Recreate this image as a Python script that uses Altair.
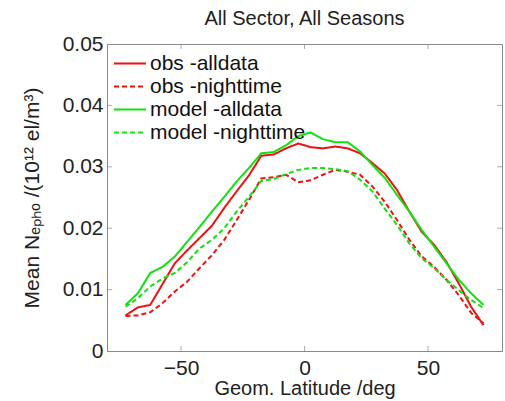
import altair as alt
import pandas as pd

lat = [-72.5, -67.5, -62.5, -57.5, -52.5, -47.5, -42.5, -37.5, -32.5, -27.5,
       -22.5, -17.5, -12.5, -7.5, -2.5, 2.5, 7.5, 12.5, 17.5, 22.5,
       27.5, 32.5, 37.5, 42.5, 47.5, 52.5, 57.5, 62.5, 67.5, 72.5]

obs_all = [0.0058, 0.0071, 0.0075, 0.0109, 0.0143, 0.0164, 0.0184, 0.0204, 0.0233, 0.0260,
           0.0286, 0.0318, 0.0320, 0.0330, 0.0338, 0.0332, 0.0330, 0.0333, 0.0330, 0.0322,
           0.0306, 0.0289, 0.0262, 0.0227, 0.0194, 0.0173, 0.0145, 0.0110, 0.0072, 0.0042]
obs_night = [0.0057, 0.0058, 0.0063, 0.0078, 0.0097, 0.0113, 0.0135, 0.0156, 0.0181, 0.0213,
             0.0246, 0.0281, 0.0283, 0.0287, 0.0275, 0.0278, 0.0287, 0.0295, 0.0292, 0.0287,
             0.0268, 0.0243, 0.0213, 0.0181, 0.0154, 0.0137, 0.0116, 0.0091, 0.0062, 0.0045]
model_all = [0.0075, 0.0094, 0.0127, 0.0137, 0.0154, 0.0178, 0.0202, 0.0227, 0.0251, 0.0276,
             0.0298, 0.0322, 0.0324, 0.0335, 0.0350, 0.0356, 0.0345, 0.0340, 0.0340, 0.0325,
             0.0303, 0.0282, 0.0254, 0.0227, 0.0197, 0.0170, 0.0143, 0.0116, 0.0094, 0.0075]
model_night = [0.0072, 0.0086, 0.0105, 0.0118, 0.0127, 0.0145, 0.0167, 0.0181, 0.0200, 0.0227,
               0.0251, 0.0277, 0.0280, 0.0288, 0.0295, 0.0298, 0.0298, 0.0296, 0.0293, 0.0279,
               0.0260, 0.0232, 0.0205, 0.0175, 0.0151, 0.0135, 0.0116, 0.0099, 0.0083, 0.0070]

series_names = ["obs -alldata", "obs -nighttime", "model -alldata", "model -nighttime"]
series_colors = ["#ee1111", "#ee1111", "#11e011", "#11e011"]
series_dashes = [[1, 0], [5, 3], [1, 0], [5, 3]]

x_ticks = [-50, 0, 50]
y_ticks = [0, 0.01, 0.02, 0.03, 0.04, 0.05]

rows = []
for name, vals in zip(series_names, [obs_all, obs_night, model_all, model_night]):
    for la, v in zip(lat, vals):
        rows.append({"lat": la, "value": v, "series": name})
df = pd.DataFrame(rows)

W, H = 395, 307
FONT = "Liberation Sans"
GRAY = "#8a8a8a"
FS = 21

xscale = alt.Scale(domain=[-80, 80], nice=False)
yscale = alt.Scale(domain=[0, 0.05], nice=False)

legend = alt.Legend(
    title=None, orient="none", legendX=6, legendY=8,
    symbolType="stroke", symbolSize=1024, symbolStrokeWidth=2,
    labelFontSize=FS, labelFont=FONT, labelColor="#111111", labelLimit=400,
    labelOffset=3, clipHeight=23, rowPadding=0, padding=0,
)

lines = alt.Chart(df).mark_line(strokeWidth=2).encode(
    x=alt.X("lat:Q", scale=xscale,
            axis=alt.Axis(values=x_ticks, title="Geom. Latitude /deg", grid=False,
                          tickSize=0, labelPadding=6, titlePadding=0, titleFontSize=20)),
    y=alt.Y("value:Q", scale=yscale,
            axis=alt.Axis(values=y_ticks, title="Mean Nₑₚₕₒ /(10¹² el/m³)", grid=False,
                          tickSize=0, labelPadding=4, titlePadding=20,
                          labelExpr="datum.value == 0 ? '0' : format(datum.value, '.2f')")),
    color=alt.Color("series:N", scale=alt.Scale(domain=series_names, range=series_colors),
                    sort=series_names, legend=legend),
    strokeDash=alt.StrokeDash("series:N", scale=alt.Scale(domain=series_names, range=series_dashes),
                              sort=series_names, legend=legend),
    detail="series:N",
)

xt = pd.DataFrame({"t": x_ticks})
yt = pd.DataFrame({"t": y_ticks[1:-1]})
tick_bottom = alt.Chart(xt).mark_tick(orient="vertical", color=GRAY, thickness=1, size=5).encode(
    x=alt.X("t:Q", scale=xscale), y=alt.value(H - 2.5))
tick_top = alt.Chart(xt).mark_tick(orient="vertical", color=GRAY, thickness=1, size=5).encode(
    x=alt.X("t:Q", scale=xscale), y=alt.value(2.5))
tick_left = alt.Chart(yt).mark_tick(orient="horizontal", color=GRAY, thickness=1, size=5).encode(
    y=alt.Y("t:Q", scale=yscale), x=alt.value(2.5))
tick_right = alt.Chart(yt).mark_tick(orient="horizontal", color=GRAY, thickness=1, size=5).encode(
    y=alt.Y("t:Q", scale=yscale), x=alt.value(W - 2.5))

chart = alt.layer(lines, tick_bottom, tick_top, tick_left, tick_right).properties(
    width=W, height=H,
    background="white",
    title=alt.TitleParams("All Sector, All Seasons", fontSize=20, font=FONT, fontWeight="normal",
                          color="#222222", offset=4, anchor="middle"),
    autosize=alt.AutoSizeParams(type="none"),
    padding={"left": 107, "top": 44, "right": 3, "bottom": 50},
).configure_axis(
    labelFont=FONT, titleFont=FONT, labelFontSize=FS, titleFontSize=FS,
    labelColor="#222222", titleColor="#222222", titleFontWeight="normal",
    domainColor=GRAY, domainWidth=1,
).configure_view(stroke=GRAY, strokeWidth=1)

chart.save("out.html", embed_options={"renderer": "svg", "actions": False})
